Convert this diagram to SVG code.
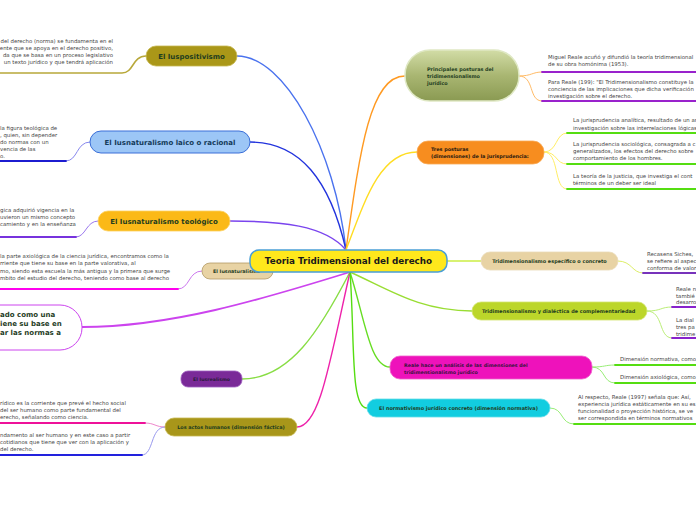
<svg xmlns="http://www.w3.org/2000/svg" width="696" height="520" viewBox="0 0 696 520">
<defs>
<linearGradient id="gGreen" x1="0" y1="0" x2="0" y2="1">
<stop offset="0" stop-color="#d2dca6"/>
<stop offset="0.5" stop-color="#a9b672"/>
<stop offset="1" stop-color="#8a9a52"/>
</linearGradient>
</defs>
<style>
.lbl{font-family:"DejaVu Sans",Verdana,sans-serif;font-weight:bold;fill:#1f3d1f}
.txt{font-family:"DejaVu Sans",Verdana,sans-serif;font-size:5.4px;fill:#444}
.c{fill:none;stroke-linecap:round}
</style>
<rect width="696" height="520" fill="#ffffff"/>

<g id="connectors">
<path class="c" d="M346,250 C335,150 285,56 237,56" stroke="#4a72ee" stroke-width="1.4"/>
<path class="c" d="M346,250 C330,180 300,142 250,142" stroke="#2233dd" stroke-width="1.4"/>
<path class="c" d="M346,250 C325,225 280,221 230,221" stroke="#7a44ee" stroke-width="1.4"/>
<path class="c" d="M346,262 C320,268 300,271 272,271" stroke="#b040cc" stroke-width="1.4"/>
<path class="c" d="M350,272 C260,300 170,327 82,327" stroke="#cc44ee" stroke-width="1.8"/>
<path class="c" d="M350,272 C320,330 290,379 242,379" stroke="#88dd44" stroke-width="1.4"/>
<path class="c" d="M350,272 C330,360 320,427 297,427" stroke="#ee22aa" stroke-width="1.4"/>
<path class="c" d="M346,250 C360,150 370,76 405,76" stroke="#ff9a22" stroke-width="1.4"/>
<path class="c" d="M346,250 C365,200 380,152 417,152" stroke="#ffdd22" stroke-width="1.4"/>
<path class="c" d="M447,261 L481,261" stroke="#ccee44" stroke-width="1.4"/>
<path class="c" d="M350,272 C390,290 420,311 472,311" stroke="#99dd33" stroke-width="1.4"/>
<path class="c" d="M350,272 C365,320 370,367 390,367" stroke="#66dd22" stroke-width="1.4"/>
<path class="c" d="M350,272 C355,340 350,408 367,408" stroke="#55dd11" stroke-width="1.4"/>

<path class="c" d="M146,56 C132,56 134,73 122,73 L0,73" stroke="#b8a83a" stroke-width="1.6"/>
<path class="c" d="M90,142 C76,142 78,161 66,161" stroke="#8888ee" stroke-width="1"/>
<path class="c" d="M66,161 L0,161" stroke="#1c1cd0" stroke-width="1.8"/>
<path class="c" d="M98,221 C86,221 86,237 76,237" stroke="#9a77ee" stroke-width="1"/>
<path class="c" d="M76,237 L0,237" stroke="#7733dd" stroke-width="1.8"/>
<path class="c" d="M202,271 C188,271 190,289 178,289" stroke="#cc77ee" stroke-width="1"/>
<path class="c" d="M178,289 L0,289" stroke="#ff00ee" stroke-width="1.8"/>
<path class="c" d="M165,427 C155,427 155,423 145,423" stroke="#ee88cc" stroke-width="1"/>
<path class="c" d="M145,423 L0,423" stroke="#ee1199" stroke-width="1.8"/>
<path class="c" d="M165,427 C150,427 154,455 142,455" stroke="#9999ee" stroke-width="1"/>
<path class="c" d="M142,455 L0,455" stroke="#2222dd" stroke-width="1.8"/>

<path class="c" d="M519,76 C532,76 532,72 542,72" stroke="#ffbb66" stroke-width="1"/>
<path class="c" d="M542,72 L696,72" stroke="#9922cc" stroke-width="1.8"/>
<path class="c" d="M519,76 C535,76 528,101 542,101" stroke="#ffbb66" stroke-width="1"/>
<path class="c" d="M542,101 L696,101" stroke="#9922cc" stroke-width="1.8"/>
<path class="c" d="M544,152 C558,152 555,133 567,133" stroke="#ffee66" stroke-width="1"/>
<path class="c" d="M567,133 L696,133" stroke="#55dd11" stroke-width="1.8"/>
<path class="c" d="M544,152 C558,152 555,164 567,164" stroke="#ffee66" stroke-width="1"/>
<path class="c" d="M567,164 L696,164" stroke="#55dd11" stroke-width="1.8"/>
<path class="c" d="M544,152 C560,152 553,189 567,189" stroke="#ffee66" stroke-width="1"/>
<path class="c" d="M567,189 L696,189" stroke="#55dd11" stroke-width="1.8"/>
<path class="c" d="M618,261 C632,261 632,273 643,273" stroke="#ddee66" stroke-width="1"/>
<path class="c" d="M643,273 L696,273" stroke="#7733bb" stroke-width="1.8"/>
<path class="c" d="M647,311 C662,311 660,307 672,307" stroke="#bbee77" stroke-width="1"/>
<path class="c" d="M672,307 L696,307" stroke="#8822cc" stroke-width="1.8"/>
<path class="c" d="M647,311 C664,311 658,338 672,338" stroke="#bbee77" stroke-width="1"/>
<path class="c" d="M672,338 L696,338" stroke="#8822cc" stroke-width="1.8"/>
<path class="c" d="M592,367 C606,367 604,365 615,365" stroke="#99ee77" stroke-width="1"/>
<path class="c" d="M615,365 L696,365" stroke="#55dd11" stroke-width="1.8"/>
<path class="c" d="M592,367 C606,367 602,383 615,383" stroke="#99ee77" stroke-width="1"/>
<path class="c" d="M615,383 L696,383" stroke="#55dd11" stroke-width="1.8"/>
<path class="c" d="M550,408 C564,408 560,424 574,424" stroke="#99ee77" stroke-width="1"/>
<path class="c" d="M574,424 L696,424" stroke="#55dd11" stroke-width="1.8"/>
</g>

<g id="iuspositivismo">
<rect x="146" y="46" width="91" height="20" rx="10" fill="#aa9718" stroke="#c7b850" stroke-width="0.8"/>
<text class="lbl" x="191.5" y="58.5" font-size="7" text-anchor="middle">El Iuspositivismo</text>
<g class="txt" text-anchor="end">
<text x="113" y="43">del derecho (norma) se fundamenta en el</text>
<text x="113" y="50">ente que se apoya en el derecho positivo,</text>
<text x="113" y="57">da que se basa en un proceso legislativo</text>
<text x="113" y="64"> un texto jurídico y que tendrá aplicación</text>
</g>
</g>

<g id="iusnat-laico">
<rect x="90" y="131" width="160" height="22" rx="11" fill="#9cc6f6" stroke="#3a6ed8" stroke-width="1"/>
<text class="lbl" x="170" y="145" font-size="7" text-anchor="middle" style="fill:#153b5a">El Iusnaturalismo laico o racional</text>
<g class="txt">
<text x="0" y="130">la figura teológica de</text>
<text x="0" y="137">, quien, sin depender</text>
<text x="0" y="144">do normas con un</text>
<text x="0" y="151">vencia de las</text>
<text x="0" y="158">o.</text>
</g>
</g>

<g id="iusnat-teologico">
<rect x="98" y="211" width="132" height="20" rx="10" fill="#fbb917" stroke="#fcd060" stroke-width="0.8"/>
<text class="lbl" x="164" y="223.8" font-size="7" text-anchor="middle">El Iusnaturalismo teológico</text>
<g class="txt">
<text x="0" y="212">gica adquirió vigencia en la</text>
<text x="0" y="219">uvieron un mismo concepto</text>
<text x="0" y="226">camiento y en la enseñanza</text>
</g>
</g>

<g id="iusnaturalismo">
<rect x="202" y="263" width="71" height="16" rx="8" fill="#e8d3a4" stroke="#b39a64" stroke-width="0.8"/>
<text class="lbl" x="213" y="272.8" font-size="4.8">El Iusnaturalismo</text>
<g class="txt">
<text x="0" y="258">la parte axiológica de la ciencia jurídica, encontramos como la</text>
<text x="0" y="265">rriente que tiene su base en la parte valorativa, al</text>
<text x="0" y="273">mo, siendo esta escuela la más antigua y la primera que surge</text>
<text x="0" y="280">mbito del estudio del derecho, teniendo como base al derecho</text>
</g>
</g>

<g id="nodo-blanco">
<rect x="-60" y="305" width="142" height="45" rx="22" fill="#ffffff" stroke="#cc44ee" stroke-width="1"/>
<g class="lbl" font-size="7">
<text x="0" y="317">ado como una</text>
<text x="0" y="326">iene su base en</text>
<text x="0" y="334.5">ar las normas a</text>
</g>
</g>

<g id="iusrealismo">
<rect x="181" y="371" width="61" height="16" rx="7" fill="#7a2a98" stroke="#a060c0" stroke-width="0.8"/>
<text class="lbl" x="211.5" y="380.8" font-size="4.7" text-anchor="middle" style="fill:#2a1a3a">El Iusrealismo</text>
</g>

<g id="actos-humanos">
<rect x="165" y="418" width="132" height="18" rx="9" fill="#a8961a" stroke="#c7b850" stroke-width="0.8"/>
<text class="lbl" x="231" y="428.8" font-size="4.9" text-anchor="middle">Los actos humanos (dimensión fáctica)</text>
<g class="txt">
<text x="0" y="405">rídico es la corriente que prevé el hecho social</text>
<text x="0" y="412">del ser humano como parte fundamental del</text>
<text x="0" y="419">erecho, señalando como ciencia.</text>
<text x="0" y="437">ndamento al ser humano y en este caso a partir</text>
<text x="0" y="444"> cotidianos que tiene que ver con la aplicación y</text>
<text x="0" y="451">del derecho.</text>
</g>
</g>

<g id="centro">
<rect x="250" y="250" width="197" height="22" rx="9" fill="#ffe81c" stroke="#4a9fd6" stroke-width="1.5"/>
<text class="lbl" x="348.5" y="264.2" font-size="8.8" text-anchor="middle" style="fill:#1a1a1a">Teoria Tridimensional del derecho</text>
</g>

<g id="principales">
<rect x="405" y="50" width="114" height="51" rx="25" fill="url(#gGreen)" stroke="#dfe8c4" stroke-width="1.5"/>
<g class="lbl" font-size="4.9">
<text x="427" y="71">Principales posturas del</text>
<text x="427" y="78">tridimensionalismo</text>
<text x="427" y="85">jurídico</text>
</g>
<g class="txt">
<text x="548" y="59">Miguel Reale acuñó y difundió la teoría tridimensional</text>
<text x="548" y="66">de su obra homónima (1953).</text>
<text x="548" y="84">Para Reale (199): "El Tridimensionalismo constituye la</text>
<text x="548" y="91">conciencia de las implicaciones que dicha verificación</text>
<text x="548" y="98">investigación sobre el derecho.</text>
</g>
</g>

<g id="tres-posturas">
<rect x="417" y="141" width="127" height="23" rx="11" fill="#f78d1f" stroke="#f9aa55" stroke-width="0.8"/>
<g class="lbl" font-size="4.9" style="fill:#2a1a10">
<text x="431" y="150.5">Tres posturas</text>
<text x="431" y="157.5">(dimensiones) de la jurisprudencia:</text>
</g>
<g class="txt">
<text x="573" y="122">La jurisprudencia analítica, resultado de un análisis</text>
<text x="573" y="130">investigación sobre las interrelaciones lógicas de</text>
<text x="573" y="146">La jurisprudencia sociológica, consagrada a c</text>
<text x="573" y="153">generalizados, los efectos del derecho sobre</text>
<text x="573" y="160">comportamiento de los hombres.</text>
<text x="573" y="178">La teoría de la justicia, que investiga el cont</text>
<text x="573" y="185">términos de un deber ser ideal</text>
</g>
</g>

<g id="especifico">
<rect x="481" y="252" width="137" height="18" rx="9" fill="#e8d3a4" stroke="#eadbb8" stroke-width="0.8"/>
<text class="lbl" x="549.5" y="262.8" font-size="4.95" text-anchor="middle">Tridimensionalismo específico o concreto</text>
<g class="txt">
<text x="647" y="256">Recasens Siches,</text>
<text x="647" y="263">se refiere al aspec</text>
<text x="647" y="270">conforma de valor</text>
</g>
</g>

<g id="dialectica">
<rect x="472" y="302" width="175" height="18" rx="9" fill="#bcd62a" stroke="#d3e570" stroke-width="0.8"/>
<text class="lbl" x="482" y="313" font-size="4.95">Tridimensionalismo y dialéctica de complementariedad</text>
<g class="txt">
<text x="676" y="291">Reale n</text>
<text x="676" y="298">tambié</text>
<text x="676" y="304">desarro</text>
<text x="676" y="322">La dial</text>
<text x="676" y="329">tres pa</text>
<text x="676" y="336">tridime</text>
</g>
</g>

<g id="dimensiones">
<rect x="390" y="356" width="202" height="23" rx="10" fill="#ee12bb" stroke="#f060cc" stroke-width="0.8"/>
<g class="lbl" font-size="4.8" style="fill:#3a1240">
<text x="404" y="366.5">Reale hace un análisis de las dimensiones del</text>
<text x="404" y="373.5">tridimensionalismo jurídico</text>
</g>
<g class="txt">
<text x="620" y="361">Dimensión normativa, como</text>
<text x="620" y="379">Dimensión axiológica, como</text>
</g>
</g>

<g id="normativismo">
<rect x="367" y="399" width="183" height="18" rx="9" fill="#12cde0" stroke="#66dde8" stroke-width="0.8"/>
<text class="lbl" x="458.5" y="409.8" font-size="4.95" text-anchor="middle">El normativismo jurídico concreto (dimensión normativa)</text>
<g class="txt">
<text x="578" y="399">Al respecto, Reale (1997) señala que: Así,</text>
<text x="578" y="406">experiencia jurídica estáticamente en su es</text>
<text x="578" y="413">funcionalidad o proyección histórica, se ve</text>
<text x="578" y="420">ser correspondida en términos normativos</text>
</g>
</g>
</svg>
